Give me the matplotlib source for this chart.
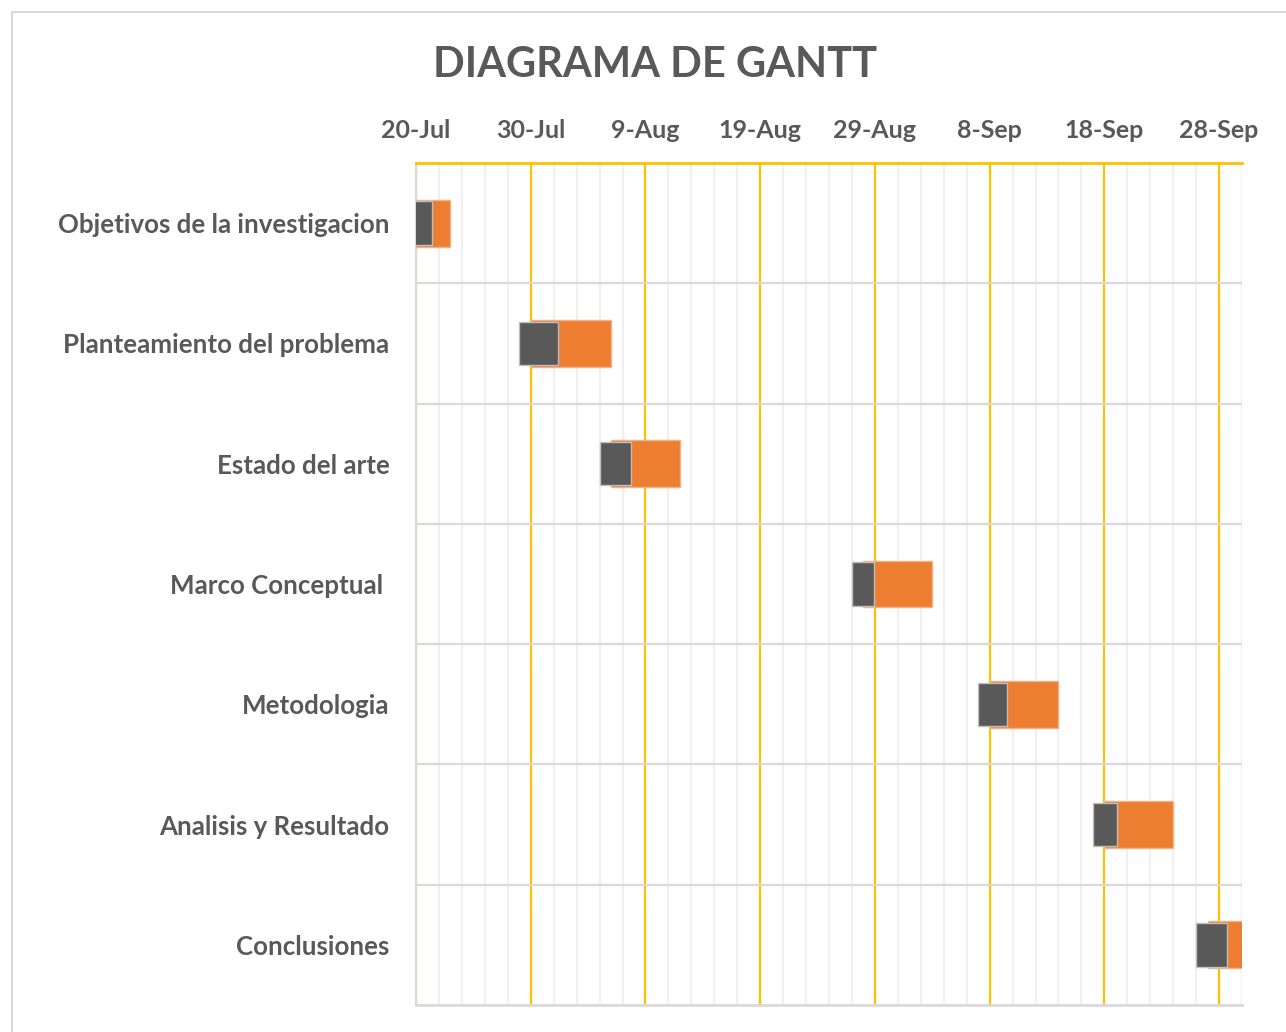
import matplotlib
matplotlib.use("Agg")
import matplotlib.pyplot as plt
import matplotlib.dates as mdates
from matplotlib.patches import Rectangle
from matplotlib.ticker import FixedLocator
import datetime as dt

# ---- data ----
tasks = ["Objetivos de la investigacion", "Planteamiento del problema", "Estado del arte",
         "Marco Conceptual ", "Metodologia", "Analisis y Resultado", "Conclusiones"]
plan_start = ["2019-07-20", "2019-07-30", "2019-08-06", "2019-08-28",
              "2019-09-08", "2019-09-18", "2019-09-27"]
plan_days = [3, 7, 6, 6, 6, 6, 4]
real_start = ["2019-07-19", "2019-07-29", "2019-08-05", "2019-08-27",
              "2019-09-07", "2019-09-17", "2019-09-26"]
real_days = [2.4, 3.4, 2.7, 1.9, 2.5, 2.1, 2.7]
axis_start = "2019-07-20"
axis_end = "2019-09-30"

plt.rcParams['font.family'] = ['Lato', 'DejaVu Sans']
GRAY_TXT = "#595959"

fig = plt.figure(figsize=(12.86, 10.32), dpi=100)
ax = fig.add_axes([416/1286, 1-1005/1032, (1242-416)/1286, (1005-163)/1032])

# figure frame
fig.patches.append(Rectangle((11.5/1286, -0.1), 1.2, 1 - 12/1032 + 0.1,
                             transform=fig.transFigure, fill=False,
                             edgecolor="#D9D9D9", linewidth=1.5))

to_num = lambda s: mdates.date2num(dt.datetime.strptime(s, "%Y-%m-%d"))
x0, x1 = to_num(axis_start), to_num(axis_end)
ypos = list(range(len(tasks)))

ax.barh(ypos, plan_days, left=[to_num(s) for s in plan_start], height=0.39,
        color="#ED7D31", edgecolor="#F4B183", linewidth=1, zorder=3)
ax.barh(ypos, real_days, left=[to_num(s) for s in real_start], height=0.36,
        color="#595959", edgecolor="#BFBFBF", linewidth=1, zorder=4)

ax.set_xlim(x0, x1)
ax.set_ylim(len(tasks) - 0.5, -0.5)

majors = [x0 + 10 * i for i in range(8)]
minors = [x0 + 2 * i for i in range(37)]
ax.xaxis.set_major_locator(FixedLocator(majors))
ax.xaxis.set_minor_locator(FixedLocator(minors))
ax.xaxis.set_major_formatter(mdates.DateFormatter("%-d-%b"))
ax.xaxis.tick_top()
ax.tick_params(axis="x", which="both", length=0, pad=15, labelsize=18, labelcolor=GRAY_TXT)
for lab in ax.get_xticklabels():
    lab.set_fontweight("bold")

ax.set_yticks(ypos)
ax.set_yticklabels(tasks, fontsize=18.6, fontweight="bold", color=GRAY_TXT)
ax.yaxis.set_minor_locator(FixedLocator([i + 0.5 for i in range(len(tasks) - 1)]))
ax.tick_params(axis="y", which="both", length=0, pad=19)

ax.grid(True, axis="x", which="minor", color="#F0F0F0", linewidth=1.6, zorder=0)
ax.grid(True, axis="x", which="major", color="#FFC000", linewidth=1.6, zorder=1)
ax.grid(True, axis="y", which="minor", color="#D9D9D9", linewidth=1.6, zorder=1)
ax.set_axisbelow(True)

ax.spines["right"].set_visible(False)
ax.spines["top"].set_color("#FFC000")
ax.spines["top"].set_linewidth(2)
ax.spines["left"].set_color("#D9D9D9")
ax.spines["left"].set_linewidth(1.6)
ax.spines["bottom"].set_color("#D9D9D9")
ax.spines["bottom"].set_linewidth(2)

fig.text(655/1286, 1 - 65/1032, "DIAGRAMA DE GANTT", ha="center", va="center",
         fontsize=30, fontweight="bold", color=GRAY_TXT)

fig.savefig("out.png", dpi=100, facecolor="white")
